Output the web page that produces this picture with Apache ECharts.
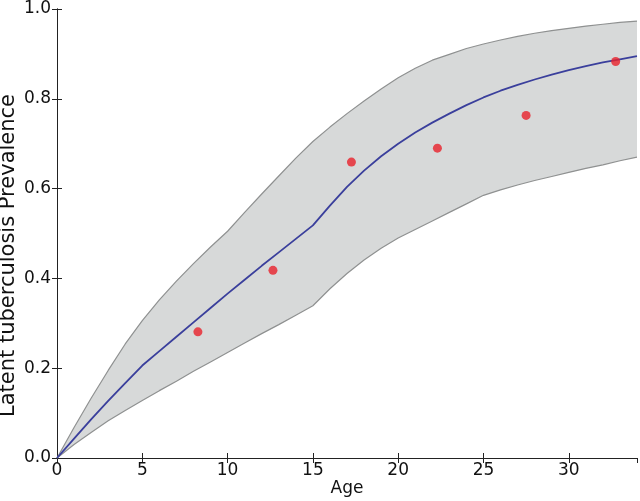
<!DOCTYPE html>
<html>
<head>
<meta charset="utf-8">
<script src="https://cdn.jsdelivr.net/npm/echarts@6/dist/echarts.min.js"></script>
<style>html,body{margin:0;padding:0;background:#fff}#c{width:640px;height:501px}</style>
</head>
<body>
<div id="c"></div>
<script>
var ages = [0, 1, 2, 3, 4, 5, 6, 7, 8, 9, 10, 11, 12, 13, 14, 15, 16, 17, 18, 19, 20, 21, 22, 23, 24, 25, 26, 27, 28, 29, 30, 31, 32, 33, 34];
var modelMean = [0, 0.043, 0.086, 0.127, 0.167, 0.206, 0.238, 0.270, 0.302, 0.334, 0.366, 0.397, 0.428, 0.458, 0.488, 0.518, 0.562, 0.604, 0.640, 0.672, 0.700, 0.725, 0.747, 0.767, 0.786, 0.803, 0.818, 0.831, 0.843, 0.854, 0.864, 0.873, 0.881, 0.888, 0.895];
var bandUpper = [0, 0.068, 0.133, 0.195, 0.254, 0.306, 0.352, 0.394, 0.433, 0.470, 0.505, 0.547, 0.588, 0.628, 0.668, 0.705, 0.737, 0.767, 0.795, 0.822, 0.847, 0.868, 0.886, 0.899, 0.912, 0.922, 0.931, 0.939, 0.946, 0.952, 0.957, 0.962, 0.966, 0.970, 0.973];
var bandLower = [0, 0.030, 0.057, 0.083, 0.106, 0.128, 0.150, 0.171, 0.193, 0.214, 0.235, 0.256, 0.277, 0.297, 0.318, 0.339, 0.377, 0.411, 0.441, 0.467, 0.490, 0.509, 0.528, 0.547, 0.566, 0.585, 0.597, 0.608, 0.618, 0.627, 0.636, 0.645, 0.653, 0.662, 0.670];
var obsAges = [8.26, 12.66, 17.26, 22.3, 27.5, 32.75];
var obsPrev = [0.281, 0.418, 0.659, 0.690, 0.763, 0.883];
var xTicks = [0, 5, 10, 15, 20, 25, 30];
var yTicks = [0.0, 0.2, 0.4, 0.6, 0.8, 1.0];

function pairs(xs, ys) { return xs.map(function (x, i) { return [x, ys[i]]; }); }

var font = 'DejaVu Sans';
var chart = echarts.init(document.getElementById('c'), null, {renderer: 'canvas'});
var axisLine = {show: true, lineStyle: {color: '#222', width: 1}};
var tickIn = {show: true, inside: true, length: 5, lineStyle: {color: '#222', width: 1}};
chart.setOption({
  animation: false,
  backgroundColor: '#fff',
  grid: {left: 57, right: 3, top: 9, bottom: 43, containLabel: false, outerBoundsMode: 'none'},
  xAxis: [{
    type: 'value', min: 0, max: 34, interval: 5, position: 'bottom',
    name: 'Age', nameLocation: 'middle', nameGap: 22, nameMoveOverlap: false,
    nameTextStyle: {fontFamily: font, fontSize: 17, color: '#111', verticalAlign: 'top'},
    axisLine: axisLine, axisTick: tickIn, splitLine: {show: false},
    axisLabel: {fontFamily: font, fontSize: 17, color: '#111', margin: 4, showMaxLabel: false,
      formatter: function (v) { return xTicks.indexOf(v) >= 0 ? String(v) : ''; }}
  }, {
    type: 'value', min: 0, max: 34, interval: 5, position: 'top',
    axisLine: axisLine, axisTick: tickIn, splitLine: {show: false}, axisLabel: {show: false}
  }],
  yAxis: [{
    type: 'value', min: 0, max: 1, interval: 0.2, position: 'left',
    name: 'Latent tuberculosis Prevalence', nameLocation: 'middle', nameGap: 38, nameRotate: 90,
    nameMoveOverlap: false,
    nameTextStyle: {fontFamily: font, fontSize: 21, color: '#111', padding: [0, 44, 0, 0]},
    axisLine: axisLine, axisTick: tickIn, splitLine: {show: false},
    axisLabel: {fontFamily: font, fontSize: 17, color: '#111', margin: 6,
      formatter: function (v) { return v.toFixed(1); }}
  }, {
    type: 'value', min: 0, max: 1, interval: 0.2, position: 'right',
    axisLine: axisLine, axisTick: tickIn, splitLine: {show: false}, axisLabel: {show: false}
  }],
  series: [{
    type: 'custom', z: 1, silent: true,
    data: [[0, 0]],
    renderItem: function (params, api) {
      var pts = [];
      for (var i = 0; i < ages.length; i++) pts.push(api.coord([ages[i], bandUpper[i]]));
      for (var j = ages.length - 1; j >= 0; j--) pts.push(api.coord([ages[j], bandLower[j]]));
      return {type: 'polygon', shape: {points: pts}, style: {fill: '#d7d9d9', stroke: null}};
    }
  }, {
    type: 'line', z: 2, data: pairs(ages, bandUpper), showSymbol: false,
    lineStyle: {color: '#8f9191', width: 1.2}
  }, {
    type: 'line', z: 2, data: pairs(ages, bandLower), showSymbol: false,
    lineStyle: {color: '#8f9191', width: 1.2}
  }, {
    type: 'line', z: 3, data: pairs(ages, modelMean), showSymbol: false,
    lineStyle: {color: '#3a3f9c', width: 1.8}
  }, {
    type: 'scatter', z: 4, data: pairs(obsAges, obsPrev), symbolSize: 9,
    itemStyle: {color: '#e8202a'}
  }]
});
</script>
</body>
</html>
